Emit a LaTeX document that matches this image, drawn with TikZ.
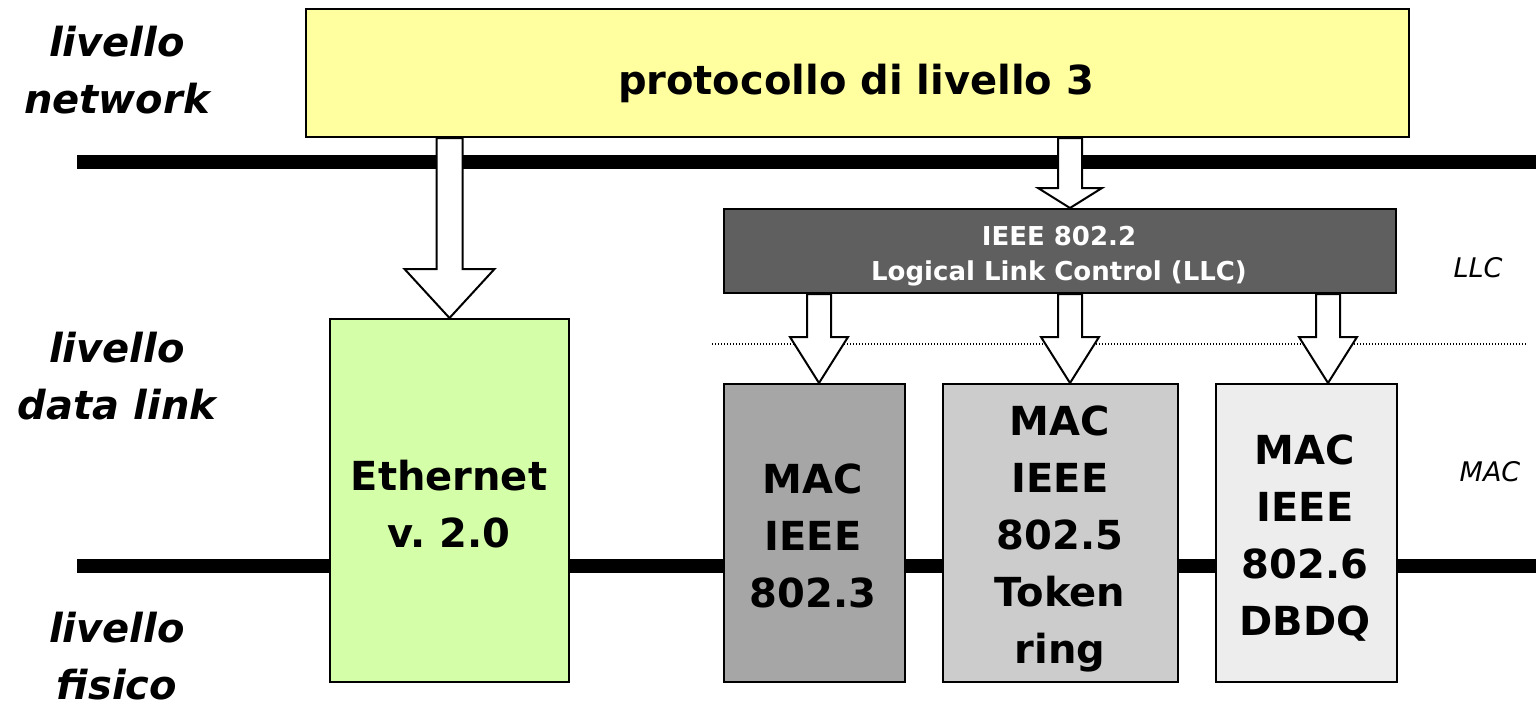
\documentclass[tikz,border=0pt]{standalone}
\usepackage{fontspec}
\setmainfont{DejaVu Sans}
\usetikzlibrary{calc}
\frenchspacing
\definecolor{protoyellow}{HTML}{FFFFA0}
\definecolor{ethgreen}{HTML}{D4FFA8}
\definecolor{llcgray}{HTML}{5F5F5F}
\definecolor{macone}{HTML}{A6A6A6}
\definecolor{mactwo}{HTML}{CCCCCC}
\definecolor{macthree}{HTML}{EDEDED}
\newcommand\blockarr[5]{%
  \draw[blockarrow] ($(#1)+(-#3,0)$) -- ($(#2)+(-#3,-#5)$) -- ($(#2)+(-#4,-#5)$) -- (#2)
    -- ($(#2)+(#4,-#5)$) -- ($(#2)+(#3,-#5)$) -- ($(#1)+(#3,0)$) -- cycle;}
\begin{document}
\begin{tikzpicture}[x=0.5pt,y=-0.5pt,
  box/.style={draw=black, line width=1pt, inner sep=0pt, anchor=north west,
    font=\bfseries\fontsize{20}{28.5}\selectfont, align=center},
  boxtext/.style={font=\bfseries\fontsize{20}{28.5}\selectfont, align=center, inner sep=0pt},
  blockarrow/.style={draw=black, fill=white, line width=1pt, line join=miter},
  layer/.style={font=\bfseries\itshape\fontsize{20}{28.5}\selectfont, align=center, inner sep=0pt},
  sublayer/.style={font=\itshape\fontsize{13.5}{16}\selectfont, inner sep=0pt},
  bar/.style={line width=7pt},
  sep/.style={line width=0.6pt, dash pattern=on 0.6pt off 0.9pt}]
\useasboundingbox (0,0) rectangle (1536,708);
% layer separators
\draw[bar] (77,162) -- (1536,162);
\draw[bar] (77,566) -- (1536,566);
\draw[sep] (712,344) -- (1527,344);
% boxes
\node[box, fill=protoyellow, minimum width=551.5pt, minimum height=64pt] (proto) at (305,8) {};
\node[font=\bfseries\fontsize{20}{24}\selectfont, anchor=base] (prototext) at (856,94) {protocollo di livello 3};
\node[box, fill=ethgreen, minimum width=119.5pt, minimum height=181.5pt] (eth) at (329,318) {};
\node[boxtext] (ethtext) at (449,504) {Ethernet\\v. 2.0};
\node[box, fill=llcgray, minimum width=336pt, minimum height=42pt] (llc) at (723,208) {};
\node[boxtext, text=white, font=\bfseries\fontsize{13}{17.5}\selectfont] (llctext) at (1059,256) {IEEE 802.2\\Logical Link Control (LLC)};
\node[box, fill=macone, minimum width=90.5pt, minimum height=149pt] (mac1) at (723,383) {};
\node[boxtext] (mac1text) at (813,536) {MAC\\IEEE\\802.3};
\node[box, fill=mactwo, minimum width=117.5pt, minimum height=149pt] (mac2) at (942,383) {};
\node[boxtext] (mac2text) at (1060,539) {MAC\\IEEE\\802.5\\Token\\ring};
\node[box, fill=macthree, minimum width=90.5pt, minimum height=149pt] (mac3) at (1215,383) {};
\node[boxtext] (mac3text) at (1305,538) {MAC\\IEEE\\802.6\\DBDQ};
% labels
\node[layer] (lnet) at (117,70) {livello\\network};
\node[layer] (ldl) at (117,376) {livello\\data link};
\node[layer] (lfis) at (117,656) {livello\\fisico};
\node[sublayer] (lllc) at (1478,268) {LLC};
\node[sublayer] (lmac) at (1490,472) {MAC};
% arrows
\coordinate (xa) at (1070,0);
\coordinate (xb) at (819,0);
\coordinate (xc) at (1328,0);
\blockarr{eth.north |- proto.south}{eth.north}{13}{45}{49}
\blockarr{xa |- proto.south}{xa |- llc.north}{12}{32}{20}
\blockarr{xb |- llc.south}{xb |- mac1.north}{12}{29}{46}
\blockarr{xa |- llc.south}{xa |- mac2.north}{12}{29}{46}
\blockarr{xc |- llc.south}{xc |- mac3.north}{12}{29}{46}
\end{tikzpicture}
\end{document}
